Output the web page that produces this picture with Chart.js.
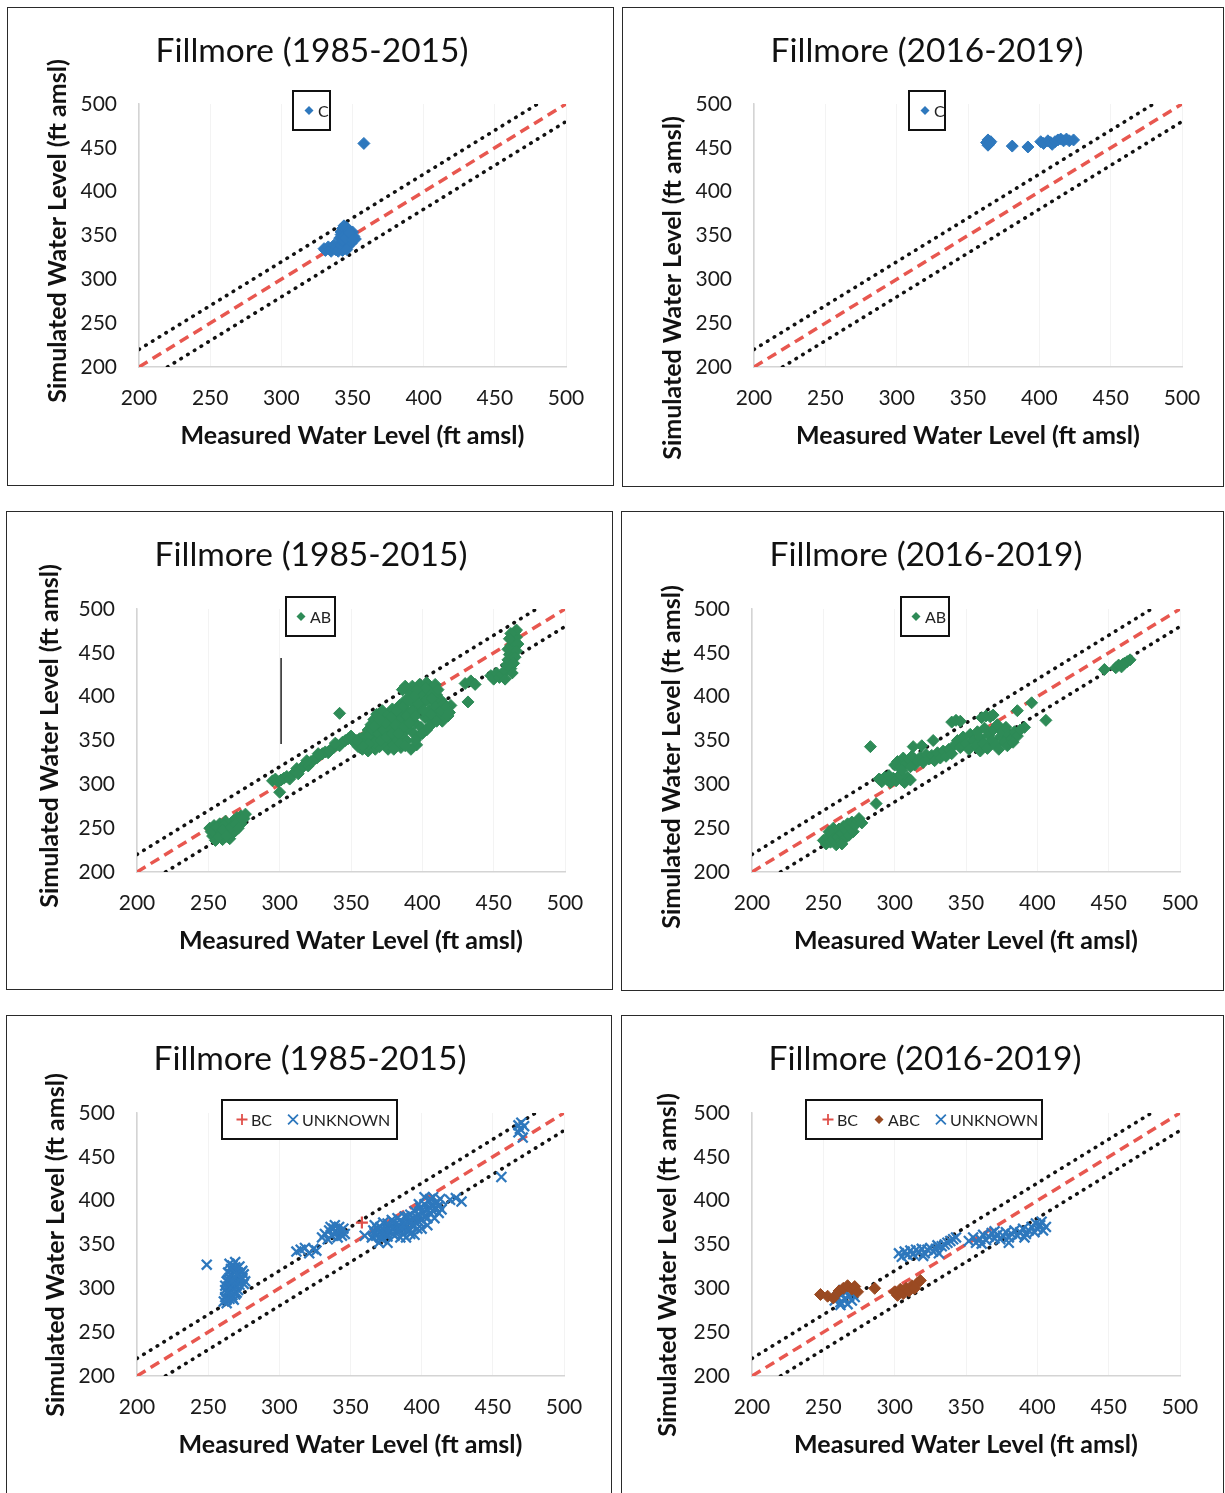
<!DOCTYPE html>
<html>
<head>
<meta charset="utf-8">
<title>Fillmore calibration scatter plots</title>
<script src="https://cdn.jsdelivr.net/npm/chart.js@4.4.1/dist/chart.umd.min.js"></script>
<style>
  html, body { margin: 0; padding: 0; background: #fff; }
  body { width: 1225px; height: 1493px; position: relative; overflow: hidden; font-family: Lato, sans-serif; }
  .frame { position: absolute; border: 1.5px solid #2a2a2a; box-sizing: border-box; }
  canvas { position: absolute; }
</style>
</head>
<body>
<script>
// ---------- labels and ticks ----------
const axisTicks = [200, 250, 300, 350, 400, 450, 500];
const periodTitles = ['Fillmore (1985-2015)', 'Fillmore (2016-2019)'];
const xAxisTitle = 'Measured Water Level (ft amsl)';
const yAxisTitle = 'Simulated Water Level (ft amsl)';

// ---------- reference lines [measured, simulated] ----------
const oneToOne = [[200, 200], [500, 500]];
const plus20 = [[200, 220], [480, 500]];
const minus20 = [[220, 200], [500, 480]];
const leaderAB1985 = [[301, 444], [301, 346]];

// ---------- zone C ----------
const zoneC_1985 = [
  [358, 455],
  [330, 335], [331, 333], [333, 337], [334, 334], [335, 332], [336, 336], [337, 339], [338, 334],
  [339, 337], [340, 332], [341, 335], [342, 339], [343, 333], [344, 337], [345, 341], [341, 347],
  [342, 351], [342, 354], [343, 358], [344, 361], [345, 356], [346, 352], [347, 348], [348, 344],
  [349, 350], [350, 354], [351, 349], [352, 346], [349, 341], [347, 338], [346, 334], [343, 345],
  [344, 349], [345, 347], [346, 359], [347, 355], [348, 353], [350, 345]
];
const zoneC_2016 = [
  [363, 456], [364, 459], [365, 455], [364, 453], [366, 457], [381, 452], [392, 451], [401, 457],
  [403, 455], [406, 458], [408, 456], [409, 454], [411, 457], [413, 459], [415, 460], [417, 458],
  [419, 460], [421, 458], [424, 459]
];

// ---------- zone AB ----------
const zoneAB_1985 = [
  [251, 250], [252, 246], [253, 241], [254, 253], [255, 244], [256, 238], [257, 248], [258, 242],
  [259, 251], [260, 237], [261, 245], [262, 240], [263, 249], [264, 253], [265, 244], [266, 256],
  [267, 250], [268, 259], [269, 247], [270, 262], [271, 255], [272, 258], [273, 264], [275, 261],
  [276, 266], [258, 255], [262, 258], [255, 236], [265, 238], [253, 247], [256, 251], [259, 244],
  [261, 253], [264, 247], [267, 244], [270, 252], [273, 255], [257, 240], [260, 248], [263, 241],
  [266, 251], [269, 255], [271, 250], [274, 260],
  [300, 291],
  [295, 304], [297, 306], [299, 303], [301, 305], [303, 307], [305, 309], [307, 306], [309, 311],
  [311, 314], [312, 318], [314, 316], [316, 320], [318, 323], [320, 321], [322, 326], [324, 328],
  [326, 330], [328, 333], [330, 335], [332, 337], [334, 336], [336, 340], [338, 342], [340, 345],
  [342, 344], [344, 348], [346, 350], [348, 352], [350, 355], [313, 312], [319, 327], [327, 335],
  [335, 338], [339, 347],
  [342, 381],
  [353, 347], [355, 343], [356, 352], [358, 340], [358, 348], [360, 356], [360, 344], [362, 362],
  [362, 338], [363, 350], [364, 368], [365, 345], [366, 356], [366, 374], [367, 340], [368, 362],
  [368, 380], [369, 350], [370, 343], [371, 368], [372, 356], [372, 384], [373, 375], [374, 347],
  [375, 362], [376, 340], [376, 380], [377, 352], [378, 370], [379, 386], [380, 345], [380, 360],
  [381, 376], [382, 352], [383, 366], [384, 390], [385, 342], [385, 382], [386, 358], [387, 372],
  [388, 396], [389, 350], [389, 385], [390, 364], [391, 405], [392, 378], [393, 412], [394, 358],
  [394, 392], [395, 370], [396, 400], [397, 384], [398, 414], [399, 365], [400, 392], [401, 406],
  [402, 376], [403, 416], [404, 398], [405, 385], [406, 409], [407, 372], [408, 394], [409, 414],
  [410, 402], [411, 380], [412, 388], [413, 396], [414, 372], [416, 384], [418, 378], [420, 390],
  [396, 345], [392, 340], [398, 356], [403, 362], [386, 408], [388, 412],
  [357, 352], [359, 346], [361, 340], [363, 356], [365, 362], [367, 348], [369, 358], [371, 350],
  [373, 362], [375, 354], [377, 366], [379, 358], [381, 368], [383, 358], [385, 376], [387, 366],
  [389, 378], [391, 370], [393, 384], [395, 378], [397, 392], [399, 404], [401, 384], [403, 396],
  [405, 406], [407, 398], [409, 388], [411, 408], [413, 384], [415, 392], [417, 388], [419, 382],
  [406, 380], [402, 410], [396, 408], [394, 400], [390, 395], [386, 388], [382, 384], [378, 376],
  [374, 370], [370, 374], [366, 366], [362, 346], [358, 344], [354, 350], [384, 346], [388, 344],
  [380, 340], [395, 350], [400, 358], [405, 366], [410, 372],
  [430, 415], [434, 418], [437, 414], [432, 394],
  [448, 424], [450, 420], [452, 427], [454, 422], [456, 425], [458, 430], [459, 436], [460, 442],
  [461, 448], [460, 454], [462, 458], [463, 464], [464, 470], [465, 474], [466, 468], [467, 460],
  [466, 452], [465, 445], [464, 438], [462, 432], [463, 427], [458, 420], [466, 476], [462, 472],
  [461, 466]
];
const zoneAB_2016 = [
  [250, 236], [252, 232], [253, 240], [255, 234], [256, 243], [257, 237], [258, 246], [259, 231],
  [260, 240], [261, 249], [262, 235], [263, 244], [264, 252], [265, 238], [266, 247], [267, 255],
  [268, 242], [269, 250], [270, 257], [271, 246], [272, 253], [274, 258], [275, 261], [277, 256],
  [263, 232], [257, 250], [254, 246],
  [287, 278], [283, 343],
  [289, 306], [291, 303], [293, 308], [295, 305], [297, 302], [299, 307], [301, 304], [303, 309],
  [305, 305], [307, 302], [309, 308], [311, 305], [296, 310], [304, 311],
  [300, 322], [302, 326], [304, 320], [306, 330], [308, 324], [310, 328], [312, 332], [314, 322],
  [316, 327], [318, 331], [320, 325], [322, 334], [324, 329], [326, 333], [328, 327], [330, 336],
  [332, 330], [334, 338], [336, 332], [338, 340], [340, 335], [305, 316], [311, 320],
  [313, 343], [319, 344], [327, 350], [340, 371], [343, 373], [346, 372], [361, 376], [364, 378],
  [367, 377], [369, 379],
  [342, 345], [344, 350], [346, 342], [348, 354], [350, 347], [352, 340], [353, 357], [355, 350],
  [357, 344], [358, 360], [360, 338], [360, 353], [362, 347], [363, 364], [365, 341], [366, 356],
  [368, 350], [369, 362], [371, 345], [372, 368], [374, 354], [375, 360], [377, 348], [378, 365],
  [380, 356], [382, 352], [384, 360], [386, 355], [373, 340], [379, 344], [383, 348],
  [386, 384], [396, 393], [406, 373], [391, 365], [388, 362],
  [447, 431], [455, 433], [457, 436], [459, 434], [461, 438], [463, 440], [465, 442], [460, 437]
];

// ---------- zones BC / ABC / unknown ----------
const zoneBC_1985 = [[358, 375]];
const unknown_1985 = [
  [249, 327],
  [261, 285], [262, 290], [263, 283], [264, 294], [265, 288], [262, 298], [264, 302], [266, 297],
  [267, 292], [268, 305], [263, 308], [265, 312], [267, 300], [269, 310], [270, 303], [271, 314],
  [266, 316], [268, 320], [272, 308], [273, 318], [270, 322], [267, 326], [269, 330], [274, 312],
  [275, 316], [266, 306], [271, 298], [264, 318], [272, 325], [268, 287], [270, 295], [276, 308],
  [263, 287], [265, 295], [267, 289], [269, 293], [262, 303], [264, 310], [266, 301], [268, 312],
  [270, 308], [272, 304], [274, 320], [271, 318], [269, 324], [266, 322], [265, 328], [273, 311],
  [267, 309], [263, 296], [275, 305], [270, 316],
  [312, 342], [315, 344], [318, 346], [321, 340], [324, 345], [326, 343],
  [330, 358], [332, 362], [334, 356], [335, 366], [337, 360], [338, 368], [340, 363], [341, 358],
  [342, 370], [343, 365], [345, 368], [346, 362], [336, 370], [339, 372], [344, 360],
  [360, 360],
  [365, 358], [366, 366], [367, 372], [368, 360], [370, 364], [371, 370], [372, 356], [373, 375],
  [374, 362], [375, 368], [376, 359], [377, 372], [378, 364], [379, 378], [380, 368], [381, 360],
  [382, 374], [383, 380], [384, 366], [385, 371], [386, 376], [387, 362], [388, 382], [389, 370],
  [390, 376], [391, 365], [392, 384], [393, 372], [394, 380], [395, 388], [396, 375], [397, 368],
  [398, 384], [399, 392], [400, 378], [401, 386], [402, 396], [403, 382], [404, 390], [405, 400],
  [406, 386], [407, 394], [408, 404], [409, 380], [410, 392], [411, 398], [412, 386], [413, 402],
  [414, 390], [389, 358], [392, 362], [395, 361], [400, 368], [404, 372], [376, 352], [370, 352],
  [367, 364], [369, 368], [372, 362], [374, 366], [376, 374], [378, 370], [380, 376], [382, 366],
  [384, 372], [386, 368], [388, 374], [390, 382], [392, 378], [394, 372], [396, 382], [398, 376],
  [400, 388], [402, 382], [404, 380], [406, 392], [408, 388], [410, 398], [412, 394], [398, 396],
  [402, 404], [406, 402], [385, 358], [380, 362], [375, 362], [371, 358],
  [420, 401], [424, 403], [428, 399],
  [456, 427],
  [468, 486], [470, 489], [469, 482], [472, 485], [471, 472], [468, 478]
];
const zoneBC_2016 = [];
const zoneABC_2016 = [
  [248, 293], [253, 291], [257, 289], [261, 297], [264, 300], [267, 303], [270, 299], [272, 302],
  [274, 296], [286, 300], [300, 296], [302, 292], [304, 299], [306, 294], [308, 300], [310, 297],
  [312, 303], [314, 300], [316, 306], [318, 309]
];
const unknown_2016 = [
  [258, 286], [260, 290], [262, 284], [263, 293], [265, 288], [266, 296], [267, 282], [268, 291],
  [270, 286], [271, 294], [264, 298], [262, 281], [269, 299], [272, 290],
  [303, 340], [305, 336], [307, 342], [309, 338], [311, 343], [313, 339], [315, 344], [317, 341],
  [319, 345], [321, 340], [323, 344], [325, 346], [327, 342], [329, 345], [331, 340], [333, 348],
  [335, 350], [337, 352], [339, 354], [341, 356], [343, 358], [320, 337], [330, 349],
  [352, 354], [355, 358], [357, 352], [360, 356], [362, 361], [364, 355], [366, 359], [368, 363],
  [370, 357], [372, 361], [374, 356], [376, 360], [378, 364], [380, 358], [382, 362], [384, 366],
  [386, 360], [388, 364], [390, 368], [392, 362], [394, 366], [396, 370], [398, 364], [400, 368],
  [402, 372], [404, 366], [406, 370], [399, 374], [403, 376], [370, 365], [380, 352], [361, 351],
  [391, 358]
];

// ---------- styling ----------
const BLUE = '#2e78bd', GREEN = '#2e8b57', BROWN = '#9a4a22', RED = '#e0504a';
const FONT = 'Lato, "Open Sans", sans-serif';

const toXY = pts => pts.map(([x, y]) => ({ x, y }));

function diamondSet(label, pts, color) {
  return { label, data: toXY(pts), inLegend: true, pointStyle: 'rectRot', pointRadius: 6,
           pointHoverRadius: 6, backgroundColor: color, borderColor: color, borderWidth: 1, showLine: false };
}
function crossSet(label, pts, color) {
  return { label, data: toXY(pts), inLegend: true, pointStyle: 'crossRot', pointRadius: 7,
           pointHoverRadius: 7, backgroundColor: color, borderColor: color, borderWidth: 2.3, showLine: false };
}
function plusSet(label, pts, color) {
  return { label, data: toXY(pts), inLegend: true, pointStyle: 'cross', pointRadius: 6,
           pointHoverRadius: 6, backgroundColor: color, borderColor: color, borderWidth: 2.2, showLine: false };
}
function refLines() {
  return [
    { label: '1:1', data: toXY(oneToOne), showLine: true, pointRadius: 0, borderColor: '#e8574f',
      borderWidth: 3.5, borderDash: [10, 6], fill: false },
    { label: '+20 ft', data: toXY(plus20), showLine: true, pointRadius: 0, borderColor: '#111',
      borderWidth: 3.6, borderDash: [0.5, 7.4], borderCapStyle: 'round', fill: false },
    { label: '-20 ft', data: toXY(minus20), showLine: true, pointRadius: 0, borderColor: '#111',
      borderWidth: 3.6, borderDash: [0.5, 7.4], borderCapStyle: 'round', fill: false }
  ];
}

// ---------- panel layout (page pixels) ----------
const panels = [
  { title: periodTitles[0], frame: [7, 7, 614, 486], area: [139, 104, 566, 367], titleX: 312, titleY: 51,
    yTitle: [58, 231], legend: { x: 293, y: 91, w: 37, h: 39, pad: 10 },
    datasets: [diamondSet('C', zoneC_1985, BLUE)] },
  { title: periodTitles[1], frame: [622, 7, 1224, 487], area: [754, 104, 1182, 367], titleX: 927, titleY: 51,
    yTitle: [673, 288], legend: { x: 909, y: 91, w: 36, h: 39, pad: 10 },
    datasets: [diamondSet('C', zoneC_2016, BLUE)] },
  { title: periodTitles[0], frame: [6, 511, 613, 990], area: [137, 609, 565, 872], titleX: 311, titleY: 555,
    yTitle: [50, 736], legend: { x: 286, y: 597, w: 49, h: 39, pad: 9 },
    datasets: [diamondSet('AB', zoneAB_1985, GREEN),
               { label: 'leader', data: toXY(leaderAB1985), showLine: true, pointRadius: 0,
                 borderColor: '#222', borderWidth: 1.5, fill: false }] },
  { title: periodTitles[1], frame: [621, 511, 1224, 991], area: [752, 609, 1180, 872], titleX: 926, titleY: 555,
    yTitle: [672, 757], legend: { x: 901, y: 597, w: 48, h: 39, pad: 9 },
    datasets: [diamondSet('AB', zoneAB_2016, GREEN)] },
  { title: periodTitles[0], frame: [6, 1015, 612, 1510], area: [137, 1113, 564, 1376], titleX: 310, titleY: 1059,
    yTitle: [56, 1245], legend: { x: 222, y: 1100, w: 175, h: 39, pad: 14 },
    datasets: [plusSet('BC', zoneBC_1985, RED), crossSet('UNKNOWN', unknown_1985, BLUE)] },
  { title: periodTitles[1], frame: [621, 1015, 1224, 1510], area: [752, 1113, 1180, 1376], titleX: 925, titleY: 1059,
    yTitle: [668, 1265], legend: { x: 806, y: 1100, w: 236, h: 39, pad: 16 },
    datasets: [plusSet('BC', zoneBC_2016, RED), diamondSet('ABC', zoneABC_2016, BROWN),
               crossSet('UNKNOWN', unknown_2016, BLUE)] }
];

// ---------- plugins ----------
function drawMarker(ctx, style, x, y, r) {
  ctx.beginPath();
  if (style === 'rectRot') {
    ctx.moveTo(x, y - r); ctx.lineTo(x + r, y); ctx.lineTo(x, y + r); ctx.lineTo(x - r, y); ctx.closePath();
    ctx.fill();
  } else if (style === 'cross') {
    ctx.moveTo(x - r, y); ctx.lineTo(x + r, y); ctx.moveTo(x, y - r); ctx.lineTo(x, y + r); ctx.stroke();
  } else {
    const d = r * Math.SQRT1_2;
    ctx.moveTo(x - d, y - d); ctx.lineTo(x + d, y + d); ctx.moveTo(x + d, y - d); ctx.lineTo(x - d, y + d); ctx.stroke();
  }
}

const boxLegend = {
  id: 'boxLegend',
  afterDatasetsDraw(chart, args, o) {
    if (!o || o.w === undefined) return;
    const ctx = chart.ctx;
    ctx.save();
    ctx.fillStyle = '#fff';
    ctx.fillRect(o.x, o.y, o.w, o.h);
    ctx.beginPath(); ctx.rect(o.x, o.y, o.w, o.h); ctx.clip();
    ctx.font = '16px ' + FONT;
    ctx.textBaseline = 'middle';
    ctx.textAlign = 'left';
    const cy = o.y + o.h / 2;
    let cur = o.x + o.pad;
    chart.data.datasets.forEach(ds => {
      if (!ds.inLegend) return;
      ctx.fillStyle = ds.backgroundColor;
      ctx.strokeStyle = ds.borderColor;
      ctx.lineWidth = ds.pointStyle === 'rectRot' ? 1 : 1.8;
      const r = ds.pointStyle === 'rectRot' ? 4.5 : (ds.pointStyle === 'cross' ? 5.5 : 7);
      drawMarker(ctx, ds.pointStyle, cur + 6, cy, r);
      ctx.fillStyle = '#222';
      ctx.fillText(ds.label, cur + 15, cy + 1);
      cur += 15 + ctx.measureText(ds.label).width + 15;
    });
    ctx.restore();
    ctx.save();
    ctx.lineWidth = 2;
    ctx.strokeStyle = '#111';
    ctx.strokeRect(o.x, o.y, o.w, o.h);
    ctx.restore();
  }
};

const sideTitle = {
  id: 'sideTitle',
  afterDraw(chart, args, o) {
    if (!o || !o.text) return;
    const ctx = chart.ctx;
    ctx.save();
    ctx.translate(o.x, o.y);
    ctx.rotate(-Math.PI / 2);
    ctx.font = 'bold 25px ' + FONT;
    ctx.fillStyle = '#111';
    ctx.textAlign = 'center';
    ctx.textBaseline = 'middle';
    ctx.fillText(o.text, 0, 0);
    ctx.restore();
  }
};

// ---------- build the six charts ----------
const TITLE_SIZE = 33.5, TITLE_LH = TITLE_SIZE * 1.2, X_AXIS_H = 84;

panels.forEach(p => {
  const [fl, ft, fr, fb] = p.frame;
  const frame = document.createElement('div');
  frame.className = 'frame';
  Object.assign(frame.style, { left: fl + 'px', top: ft + 'px', width: (fr - fl) + 'px', height: (fb - ft) + 'px' });
  document.body.appendChild(frame);

  const cl = fl + 2, ct = ft + 2;
  const cw = Math.min(fr, 1225) - fl - 4;
  const ch = Math.min(fb - 2, 1493) - ct;
  const canvas = document.createElement('canvas');
  canvas.width = cw; canvas.height = ch;
  Object.assign(canvas.style, { left: cl + 'px', top: ct + 'px', width: cw + 'px', height: ch + 'px' });
  document.body.appendChild(canvas);

  const [al, at, ar, ab] = p.area;
  const padR = cl + cw - ar;
  const padL = Math.max(0, padR + 2 * (p.titleX - cl) - cw);
  const yW = al - cl - padL;
  const padT = p.titleY - ct - TITLE_LH / 2;
  const titlePadB = at - ct - padT - TITLE_LH;
  const padB = ct + ch - ab - X_AXIS_H;

  const tickFont = { family: FONT, size: 21 };
  new Chart(canvas.getContext('2d'), {
    type: 'scatter',
    data: { datasets: [...p.datasets, ...refLines()] },
    options: {
      responsive: false,
      animation: false,
      devicePixelRatio: 1,
      layout: { padding: { left: padL, right: padR, top: padT, bottom: padB } },
      scales: {
        x: {
          type: 'linear', min: axisTicks[0], max: axisTicks[axisTicks.length - 1],
          afterBuildTicks: s => { s.ticks = axisTicks.map(v => ({ value: v })); },
          afterFit: s => { s.height = X_AXIS_H; },
          grid: { display: true, color: '#f3f3f3', drawTicks: false },
          border: { display: true, color: '#d4d4d4', width: 1.5 },
          ticks: { font: tickFont, color: '#1a1a1a', padding: 19, maxRotation: 0 },
          title: { display: true, text: xAxisTitle, color: '#111', padding: 0,
                   font: { family: FONT, size: 25, weight: 'bold' } }
        },
        y: {
          type: 'linear', min: axisTicks[0], max: axisTicks[axisTicks.length - 1],
          afterBuildTicks: s => { s.ticks = axisTicks.map(v => ({ value: v })); },
          afterFit: s => { s.width = yW; },
          grid: { display: false, drawTicks: false },
          border: { display: true, color: '#d4d4d4', width: 1.5 },
          ticks: { font: tickFont, color: '#1a1a1a', padding: 22 },
          title: { display: false }
        }
      },
      plugins: {
        legend: { display: false },
        tooltip: { enabled: false },
        title: { display: true, text: p.title, color: '#111',
                 font: { family: FONT, size: TITLE_SIZE, weight: 'normal', lineHeight: 1.2 },
                 padding: { top: 0, bottom: titlePadB } },
        boxLegend: { x: p.legend.x - cl, y: p.legend.y - ct, w: p.legend.w, h: p.legend.h, pad: p.legend.pad },
        sideTitle: { text: yAxisTitle, x: p.yTitle[0] - cl, y: p.yTitle[1] - ct }
      }
    },
    plugins: [boxLegend, sideTitle]
  });
});
</script>
</body>
</html>
